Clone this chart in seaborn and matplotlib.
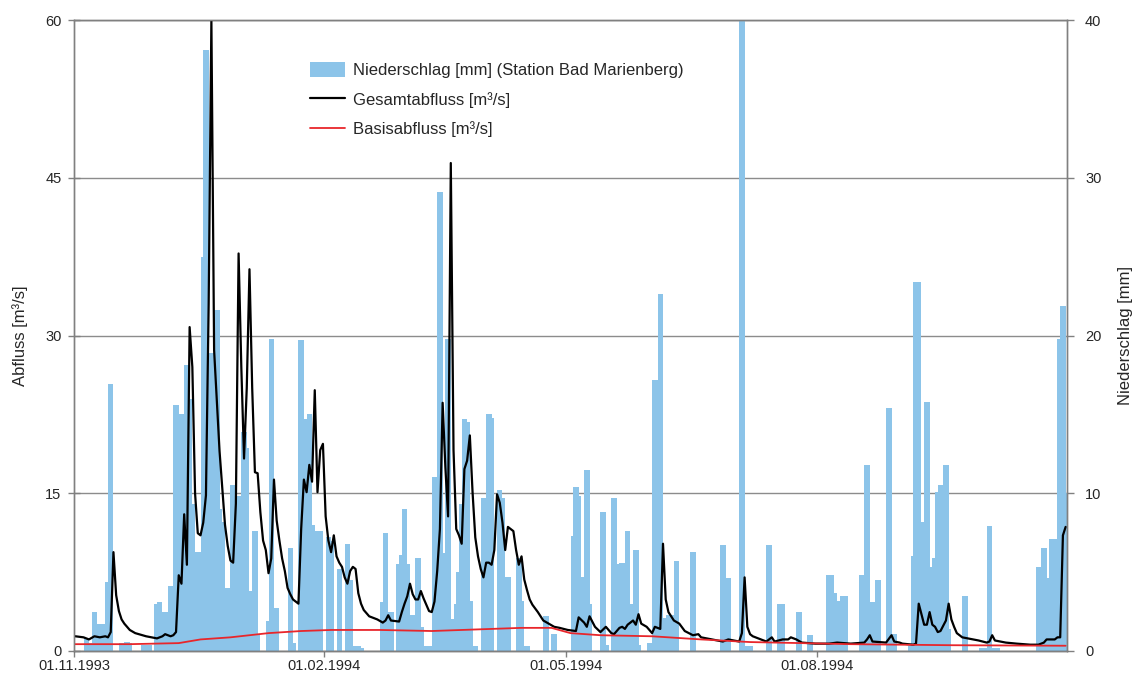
import matplotlib
matplotlib.use("Agg")
import matplotlib.pyplot as plt
from matplotlib.patches import Patch
from matplotlib.lines import Line2D
import pandas as pd
import seaborn as sns

start = "1993-11-01"

# daily precipitation, station Bad Marienberg (day index from 01.11.1993, mm)
rain_day = [4, 5, 7, 9, 10, 11, 12, 13, 17, 19, 20, 25, 27, 30, 31, 33, 35, 37, 39, 41,
            42, 43, 44, 45, 47, 48, 50, 51, 52, 53, 54, 56, 58, 60, 62, 63, 64, 66, 67, 71,
            72, 74, 79, 80, 83, 84, 86, 87, 89, 90, 93, 94, 97, 100, 101, 102, 104, 105, 113, 114,
            115, 116, 119, 120, 121, 122, 124, 126, 127, 128, 130, 132, 134, 135, 137, 138, 140, 141, 142, 143,
            144, 145, 147, 150, 152, 153, 156, 157, 158, 159, 163, 164, 166, 173, 176, 183, 184, 185, 186, 188,
            189, 194, 195, 198, 199, 200, 201, 203, 204, 206, 207, 211, 213, 215, 217, 218, 219, 221, 227, 238,
            240, 245, 247, 248, 255, 259, 260, 266, 270, 277, 278, 279, 280, 281, 282, 283, 289, 291, 293, 295,
            299, 301, 307, 308, 309, 310, 311, 312, 313, 314, 315, 316, 317, 318, 319, 320, 321, 327, 333, 334,
            336, 338, 339, 354, 356, 357, 359, 360, 362, 363, 364]
rain_mm = [0.8, 0.5, 2.5, 1.7, 1.7, 1.6, 4.4, 16.9, 0.5, 0.6, 0.5, 0.4, 0.4, 3.0, 3.1, 2.5, 4.1, 15.6, 15.0, 18.1,
           16.0, 9.3, 6.3, 6.3, 25.0, 38.1, 18.9, 5.0, 21.6, 9.0, 8.2, 4.0, 10.5, 9.8, 13.9, 12.9, 3.8, 7.6, 1.0, 1.9,
           19.8, 2.7, 6.5, 0.5, 19.7, 14.7, 15.0, 8.0, 7.6, 7.6, 7.2, 7.0, 5.2, 6.8, 4.5, 0.3, 0.3, 0.2, 3.1, 7.5,
           2.5, 2.5, 5.5, 6.1, 9.0, 5.5, 2.3, 5.9, 1.5, 0.3, 0.3, 11.0, 29.1, 6.2, 19.8, 2.0, 3.0, 5.0, 9.3, 14.7,
           14.5, 3.2, 0.3, 9.7, 15.0, 14.8, 10.2, 9.7, 4.7, 4.7, 5.9, 3.2, 0.3, 2.2, 1.1, 7.3, 10.4, 9.8, 4.7, 11.5,
           3.0, 8.8, 0.4, 9.7, 5.5, 3.9, 5.6, 7.6, 3.0, 6.4, 0.4, 0.5, 17.2, 22.6, 2.1, 2.3, 2.3, 5.7, 6.3, 6.7,
           4.6, 41.0, 0.3, 0.3, 6.7, 3.0, 3.0, 2.5, 1.0, 4.8, 4.8, 3.7, 3.2, 3.2, 3.5, 3.5, 4.8, 11.8, 3.1, 4.5,
           15.4, 1.1, 0.3, 6.0, 23.4, 23.4, 8.2, 8.2, 15.8, 5.3, 5.3, 5.9, 10.1, 10.5, 10.5, 11.8, 1.4, 3.5, 0.2, 0.2,
           7.9, 0.2, 0.2, 5.3, 6.5, 4.6, 7.1, 7.1, 19.8, 21.9, 10.0]

# total discharge (m³/s)
q_day = [0, 3, 5, 7, 9, 11, 12, 13, 14, 15, 16, 17, 18, 20, 22, 26, 30, 32, 33, 35,
         36, 37, 38, 39, 40, 41, 42, 43, 44, 45, 46, 47, 48, 49, 50, 51, 52, 53, 54, 55,
         56, 57, 58, 59, 60, 61, 62, 63, 64, 65, 66, 67, 68, 69, 70, 71, 72, 73, 74, 75,
         76, 77, 78, 79, 80, 82, 83, 84, 85, 86, 87, 88, 89, 90, 91, 92, 93, 94, 95, 96,
         97, 98, 99, 100, 101, 102, 103, 104, 105, 106, 108, 111, 113, 114, 115, 116, 119, 120, 121, 122,
         123, 124, 125, 126, 127, 128, 129, 130, 131, 132, 133, 134, 135, 136, 137, 138, 139, 140, 141, 142,
         143, 144, 145, 146, 147, 148, 149, 150, 151, 152, 153, 154, 155, 156, 157, 158, 159, 160, 161, 162,
         163, 164, 165, 166, 167, 168, 170, 172, 174, 176, 178, 181, 184, 185, 187, 188, 189, 191, 193, 195,
         197, 198, 200, 201, 202, 203, 205, 206, 207, 208, 210, 212, 213, 215, 216, 217, 218, 220, 222, 224,
         227, 229, 230, 234, 238, 240, 242, 244, 245, 246, 247, 248, 249, 251, 254, 256, 257, 260, 262, 263,
         265, 267, 272, 277, 280, 285, 290, 291, 292, 293, 298, 300, 301, 303, 304, 308, 309, 310, 311, 312,
         313, 314, 315, 316, 317, 318, 320, 321, 322, 323, 324, 326, 328, 330, 332, 335, 336, 337, 338, 342,
         346, 351, 354, 356, 357, 360, 361, 362, 363, 364]
q_total = [1.4, 1.3, 1.1, 1.4, 1.3, 1.4, 1.3, 1.8, 9.4, 5.3, 3.8, 3.0, 2.6, 2.0, 1.7, 1.4, 1.2, 1.4, 1.6, 1.4,
           1.5, 1.8, 7.2, 6.4, 13.0, 8.2, 30.8, 27.0, 15.0, 11.2, 11.0, 12.2, 14.8, 33.0, 60.0, 28.6, 23.8, 19.0, 15.5, 12.0,
           10.0, 8.6, 8.4, 14.0, 37.8, 27.0, 18.3, 25.0, 36.3, 25.0, 17.0, 16.9, 13.2, 10.5, 9.6, 7.4, 8.8, 16.3, 12.4, 10.5,
           8.8, 7.6, 6.0, 5.4, 4.9, 4.5, 11.6, 16.3, 15.1, 17.7, 16.1, 24.8, 15.1, 19.1, 19.7, 12.8, 10.5, 9.4, 11.0, 9.0,
           8.4, 8.0, 7.0, 6.4, 7.6, 8.0, 7.8, 5.5, 4.5, 3.9, 3.3, 3.0, 2.7, 2.9, 3.4, 2.9, 2.8, 3.7, 4.5, 5.2,
           6.4, 5.4, 4.9, 4.9, 5.7, 5.0, 4.4, 3.8, 3.7, 4.7, 7.6, 11.6, 23.6, 17.5, 12.8, 46.4, 19.1, 11.6, 11.0, 10.2,
           17.3, 18.1, 20.5, 15.1, 10.8, 9.0, 7.8, 7.0, 8.4, 8.4, 8.2, 9.6, 14.9, 14.1, 12.2, 9.6, 11.8, 11.6, 11.4, 9.6,
           8.2, 9.0, 6.8, 5.8, 4.9, 4.4, 3.7, 2.9, 2.6, 2.3, 2.2, 2.0, 1.9, 3.2, 2.7, 2.3, 3.3, 2.3, 1.8, 2.3,
           1.7, 1.6, 2.2, 2.3, 2.1, 2.5, 2.9, 2.5, 3.5, 2.6, 2.3, 1.7, 2.3, 2.1, 10.2, 4.9, 3.7, 2.9, 2.6, 1.9,
           1.5, 1.6, 1.3, 1.1, 0.9, 1.1, 1.0, 0.9, 1.7, 7.0, 2.3, 1.6, 1.4, 1.2, 0.9, 1.3, 0.9, 1.1, 1.1, 1.3,
           1.1, 0.8, 0.7, 0.7, 0.8, 0.7, 0.8, 1.1, 1.5, 0.9, 0.8, 1.5, 0.9, 0.8, 0.7, 0.6, 0.7, 4.5, 3.5, 2.5,
           2.5, 3.7, 2.5, 2.3, 1.8, 1.9, 2.9, 4.5, 3.0, 2.3, 1.7, 1.3, 1.2, 1.1, 1.0, 0.8, 0.9, 1.5, 1.0, 0.8,
           0.7, 0.6, 0.6, 0.8, 1.1, 1.1, 1.3, 1.3, 11.0, 11.8]

# base flow (m³/s)
base_day = [0, 20, 38, 46, 57, 71, 83, 94, 112, 131, 142, 164, 175, 182, 193, 212, 230, 248, 267, 285, 322, 364]
q_base = [0.65, 0.65, 0.75, 1.1, 1.3, 1.7, 1.9, 2.0, 2.0, 1.9, 2.0, 2.2, 2.2, 1.7, 1.5, 1.4, 1.1, 0.85, 0.75, 0.65, 0.55, 0.5]

tick_dates = ["1993-11-01", "1994-02-01", "1994-05-01", "1994-08-01"]
tick_labels = ["01.11.1993", "01.02.1994", "01.05.1994", "01.08.1994"]

rain = pd.DataFrame({"day": rain_day, "mm": rain_mm})
flow = pd.DataFrame({"day": q_day, "q": q_total})
base = pd.DataFrame({"day": base_day, "q": q_base})
tick_idx = (pd.to_datetime(tick_dates) - pd.Timestamp(start)).days

sns.set_theme(style="white")
plt.rcParams["font.family"] = ["Liberation Sans", "DejaVu Sans"]

blue = "#8cc4e9"
grey = "#808080"

fig, ax = plt.subplots(figsize=(11.37, 6.75), dpi=100)
fig.subplots_adjust(left=74/1137, right=1067/1137, bottom=24/675, top=655/675)

# bars on the first axes (drawn underneath), lines on the twin
sns.barplot(data=rain, x="day", y="mm", native_scale=True, width=2.0, color=blue,
            saturation=1, errorbar=None, linewidth=0, ax=ax)
ax2 = ax.twinx()
sns.lineplot(data=flow, x="day", y="q", color="black", lw=1.6, ax=ax2, legend=False)
sns.lineplot(data=base, x="day", y="q", color="#e8262b", lw=1.3, ax=ax2, legend=False)

ax.set_xlim(-0.5, 364.5)
ax.set_ylim(0, 40)
ax2.set_ylim(0, 60)
ax.set_xticks([i - 0.5 for i in tick_idx])
ax.set_xticklabels(tick_labels)
ax.set_xlabel("")

ax.set_yticks([0, 10, 20, 30, 40])
ax2.set_yticks([0, 15, 30, 45, 60])
ax.yaxis.tick_right()
ax.yaxis.set_label_position("right")
ax2.yaxis.tick_left()
ax2.yaxis.set_label_position("left")

ax.yaxis.grid(True, color="#8c8c8c", lw=1)
ax.xaxis.grid(False)
ax.set_axisbelow(True)

ax.set_ylabel("Niederschlag [mm]", fontsize=12, labelpad=12)
ax2.set_ylabel("Abfluss [m³/s]", fontsize=12, labelpad=12)

ax.tick_params(axis="x", direction="out", length=4, width=1, color=grey, labelsize=10.5, pad=2, bottom=True)
ax.tick_params(axis="y", direction="out", length=5, width=1, color=grey, labelsize=10.5, pad=8, right=True, left=False)
ax2.tick_params(axis="y", direction="inout", length=8, width=1, color=grey, labelsize=10.5, pad=5, left=True, right=False)

for a in (ax, ax2):
    for s in a.spines.values():
        s.set_color(grey)
        s.set_linewidth(1)
ax.spines["bottom"].set_color("#555555")

handles = [Patch(facecolor=blue, edgecolor="none"),
           Line2D([], [], color="black", lw=1.6),
           Line2D([], [], color="#e8262b", lw=1.3)]
labels = ["Niederschlag [mm] (Station Bad Marienberg)", "Gesamtabfluss [m³/s]", "Basisabfluss [m³/s]"]
ax2.legend(handles, labels, loc="upper left", bbox_to_anchor=(0.223, 0.957), frameon=False,
           fontsize=12, handlelength=2.1, handleheight=1.0, handletextpad=0.45, labelspacing=0.8)

plt.savefig("out.png", dpi=100)
